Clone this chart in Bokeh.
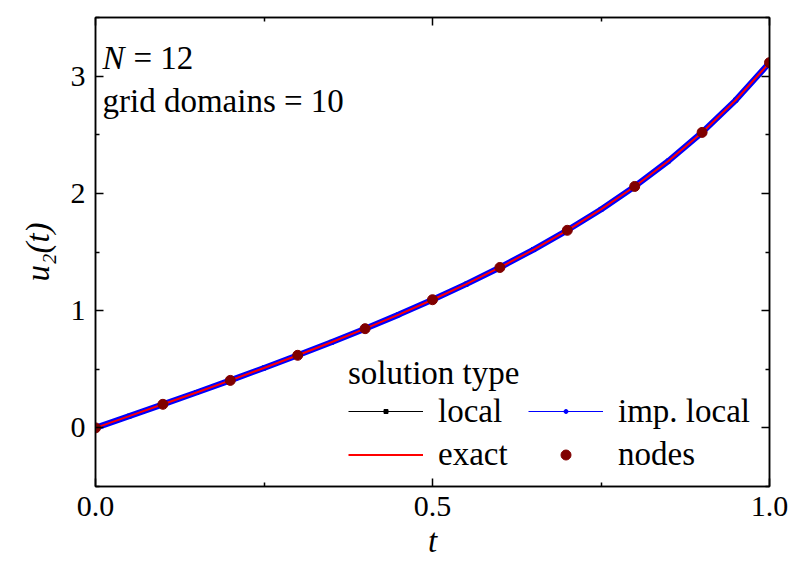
from bokeh.plotting import figure
from bokeh.models import (Range1d, LinearAxis, Label, Legend, LegendItem,
                          PrintfTickFormatter, CustomJSTickFormatter, FixedTicker)
from bokeh.embed import file_html
from bokeh.resources import INLINE

# ---- data ----
t_curve = [0.0, 0.05, 0.10, 0.15, 0.20, 0.25, 0.30, 0.35, 0.40, 0.45, 0.50,
           0.55, 0.60, 0.65, 0.70, 0.75, 0.80, 0.85, 0.90, 0.95, 1.00]
u_local = [0.0, 0.100, 0.201, 0.302, 0.405, 0.511, 0.619, 0.730, 0.846, 0.966, 1.093,
           1.226, 1.368, 1.521, 1.685, 1.863, 2.059, 2.276, 2.520, 2.796, 3.115]
u_imp_local = [0.0, 0.100, 0.201, 0.302, 0.405, 0.511, 0.619, 0.730, 0.846, 0.966, 1.093,
               1.226, 1.368, 1.521, 1.685, 1.863, 2.059, 2.276, 2.520, 2.796, 3.115]
u_exact = [0.0, 0.100, 0.201, 0.302, 0.405, 0.511, 0.619, 0.730, 0.846, 0.966, 1.093,
           1.226, 1.368, 1.521, 1.685, 1.863, 2.059, 2.276, 2.520, 2.796, 3.115]
t_nodes = [0.0, 0.1, 0.2, 0.3, 0.4, 0.5, 0.6, 0.7, 0.8, 0.9, 1.0]
u_nodes = [0.0, 0.201, 0.405, 0.619, 0.846, 1.093, 1.368, 1.685, 2.059, 2.520, 3.115]

x_ticks = [0.0, 0.5, 1.0]
x_minor = [0.25, 0.75]
y_ticks = [0, 1, 2, 3]
y_minor = [-0.5, 0.5, 1.5, 2.5, 3.5]

FONT = "Liberation Serif"
FS = "33px"
TICK_FS = "30px"

p = figure(width=793, height=561, output_backend="svg", toolbar_location=None,
           x_range=Range1d(0, 1), y_range=Range1d(-0.5, 3.5),
           min_border_left=95, min_border_right=24, min_border_top=17,
           min_border_bottom=74)
p.xgrid.visible = False
p.ygrid.visible = False
p.outline_line_color = "black"
p.outline_line_width = 1.5
p.background_fill_color = "white"
p.border_fill_color = "white"

def style_axis(ax, ticks, fmt, minor):
    ax.ticker = FixedTicker(ticks=ticks, minor_ticks=minor)
    ax.formatter = fmt
    ax.axis_line_color = "black"
    ax.axis_line_width = 1.5
    ax.major_tick_line_color = "black"
    ax.major_tick_line_width = 1.5
    ax.minor_tick_line_color = "black"
    ax.minor_tick_line_width = 1.5
    ax.major_tick_in = 8
    ax.major_tick_out = 0
    ax.minor_tick_in = 4
    ax.minor_tick_out = 0
    ax.major_label_text_font = FONT
    ax.major_label_text_font_size = TICK_FS
    ax.major_label_text_color = "black"
    ax.axis_label_text_color = "black"

style_axis(p.xaxis[0], x_ticks, PrintfTickFormatter(format="%.1f"), x_minor)
style_axis(p.yaxis[0], y_ticks, PrintfTickFormatter(format="%d"), y_minor)
p.xaxis[0].major_label_standoff = 10
p.yaxis[0].major_label_standoff = 10
p.xaxis[0].axis_label = "t"
p.xaxis[0].axis_label_text_font = FONT
p.xaxis[0].axis_label_text_font_size = FS
p.xaxis[0].axis_label_text_font_style = "italic"
p.xaxis[0].axis_label_standoff = 4
p.yaxis[0].axis_label = "u\u2082(t)"
p.yaxis[0].axis_label_text_font = FONT
p.yaxis[0].axis_label_text_font_size = FS
p.yaxis[0].axis_label_text_font_style = "italic"
p.yaxis[0].axis_label_standoff = 12

blank = CustomJSTickFormatter(code="return ''")
top = LinearAxis()
style_axis(top, x_ticks, blank, x_minor)
right = LinearAxis()
style_axis(right, y_ticks, blank, y_minor)
top.major_label_text_font_size = "1px"
right.major_label_text_font_size = "1px"
top.major_label_standoff = 0
right.major_label_standoff = 0
p.add_layout(top, "above")
p.add_layout(right, "right")

# ---- curves ----
r_local = p.line(t_curve, u_local, line_color="black", line_width=1)
r_local_m = p.scatter(t_curve, u_local, marker="square", size=4, color="black")
r_imp_thin = p.line(t_curve, u_imp_local, line_color="#0000ff", line_width=1)
r_imp_m = p.scatter(t_curve, u_imp_local, marker="circle", size=4, color="#0000ff")
r_imp = p.line(t_curve, u_imp_local, line_color="#0000ff", line_width=6)
r_exact = p.line(t_curve, u_exact, line_color="#ff0000", line_width=2)
r_nodes = p.scatter(t_nodes, u_nodes, marker="circle", size=10, color="#800000")

def make_legend(items, loc, gh, title=None):
    lg = Legend(items=items, location=loc, orientation="vertical",
                glyph_width=75, glyph_height=gh, label_height=38,
                label_standoff=15, padding=0, margin=0, spacing=0,
                background_fill_alpha=0, border_line_color=None,
                label_text_font=FONT, label_text_font_size=FS,
                label_text_color="black")
    if title:
        lg.title = title
        lg.title_text_font = FONT
        lg.title_text_font_size = FS
        lg.title_text_font_style = "normal"
        lg.title_text_color = "black"
        lg.title_standoff = 0
    p.add_layout(lg, "center")
    return lg

make_legend([LegendItem(label="local", renderers=[r_local, r_local_m])], (253, 56), 10,
            title="solution type")
make_legend([LegendItem(label="exact", renderers=[r_exact])], (253, 13), 25)
make_legend([LegendItem(label="imp. local", renderers=[r_imp_thin, r_imp_m])], (433, 56), 10)
make_legend([LegendItem(label="nodes", renderers=[r_nodes])], (433, 13), 25)

# ---- annotation text ----
def lab(text, x, y, style="normal"):
    l = Label(x=x, y=y, x_units="screen", y_units="screen", text=text,
              text_font=FONT, text_font_size=FS, text_font_style=style,
              text_color="black", text_align="left", text_baseline="alphabetic")
    p.add_layout(l)

lab("N", 7, 429, style="italic")
lab("= 12", 38, 429)
lab("grid domains = 10", 7, 386)

open("out.html", "w").write(file_html(p, INLINE))
